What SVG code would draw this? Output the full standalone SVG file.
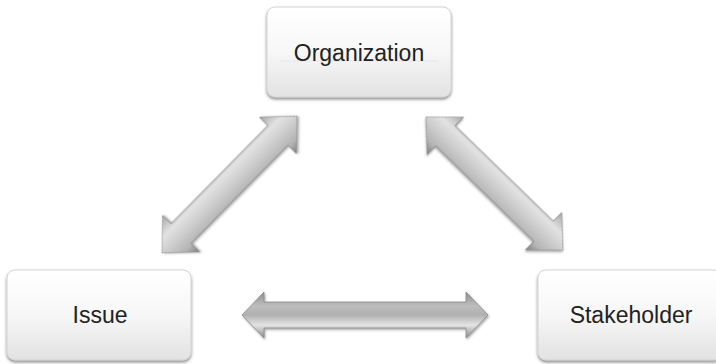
<svg xmlns="http://www.w3.org/2000/svg" width="716" height="364" viewBox="0 0 716 364">
  <defs>
    <linearGradient id="boxFill" x1="0" y1="0" x2="0" y2="1">
      <stop offset="0" stop-color="#ffffff"/>
      <stop offset="0.5" stop-color="#f7f7f7"/>
      <stop offset="1" stop-color="#e2e2e2"/>
    </linearGradient>
    <linearGradient id="arrowH" x1="0" y1="0" x2="0" y2="1">
      <stop offset="0" stop-color="#8f8f8f"/>
      <stop offset="0.3" stop-color="#bdbdbd"/>
      <stop offset="0.5" stop-color="#b0b0b0"/>
      <stop offset="0.72" stop-color="#e4e4e4"/>
      <stop offset="1" stop-color="#8a8a8a"/>
    </linearGradient>
    <linearGradient id="arrowD" x1="0" y1="0" x2="0" y2="1">
      <stop offset="0" stop-color="#a8a8a8"/>
      <stop offset="0.3" stop-color="#e2e2e2"/>
      <stop offset="0.55" stop-color="#cccccc"/>
      <stop offset="0.8" stop-color="#b4b4b4"/>
      <stop offset="1" stop-color="#7e7e7e"/>
    </linearGradient>
    <filter id="boxShadow" x="-10%" y="-10%" width="120%" height="130%">
      <feDropShadow dx="0" dy="2" stdDeviation="1.6" flood-color="#444" flood-opacity="0.6"/>
    </filter>
    <filter id="arrowShadow" x="-10%" y="-20%" width="120%" height="140%">
      <feDropShadow dx="1" dy="1.5" stdDeviation="1.2" flood-color="#555" flood-opacity="0.5"/>
    </filter>
    <style>
      .box { fill: url(#boxFill); stroke: #d4d4d4; stroke-width: 1; filter: url(#boxShadow); }
      .gloss { stroke: #e6e6e6; stroke-width: 1; }
      .label { font-family: "Liberation Sans", Arial, sans-serif; font-size: 23px; fill: #222222; text-anchor: middle; }
      .arrH { fill: url(#arrowH); stroke: #8c8c8c; stroke-width: 0.8; filter: url(#arrowShadow); }
      .arrD { fill: url(#arrowD); stroke: #8c8c8c; stroke-width: 0.8; filter: url(#arrowShadow); }
    </style>
  </defs>
  <rect width="716" height="364" fill="#ffffff"/>

  <g id="connectors">
    <polygon class="arrH" points="242,315 264,292 264,302 466,302 466,292 488,315 466,338 466,328 264,328 264,338"/>
    <g transform="translate(229.5,184.5) rotate(-45.4)">
      <polygon class="arrD" points="-96,0 -69,-26 -69,-14 69,-14 69,-26 96,0 69,26 69,14 -69,14 -69,26"/>
    </g>
    <g transform="translate(494.5,183.5) rotate(44.2)">
      <polygon class="arrD" points="-95.5,0 -68.5,-26 -68.5,-14 68.5,-14 68.5,-26 95.5,0 68.5,26 68.5,14 -68.5,14 -68.5,26"/>
    </g>
  </g>

  <g id="organization">
    <rect class="box" x="267" y="7" width="184" height="90" rx="8"/>
    <line class="gloss" x1="280" y1="61" x2="438" y2="61"/>
    <text class="label" x="359" y="60.5">Organization</text>
  </g>

  <g id="issue">
    <rect class="box" x="7" y="270" width="184" height="90" rx="8"/>
    <text class="label" x="100" y="323">Issue</text>
  </g>

  <g id="stakeholder">
    <rect class="box" x="538" y="270" width="184" height="90" rx="8"/>
    <text class="label" x="631" y="323">Stakeholder</text>
  </g>
</svg>
